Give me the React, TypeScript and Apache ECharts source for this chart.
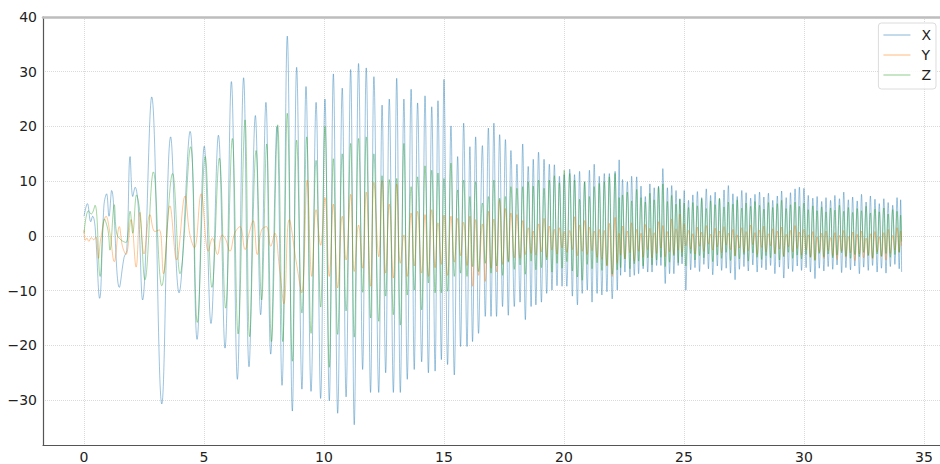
import React, { useEffect, useRef } from "react";
import * as echarts from "echarts";

const xTicks = [0, 5, 10, 15, 20, 25, 30, 35];
const yTicks = [-30, -20, -10, 0, 10, 20, 30, 40];
const seriesNames = ["X", "Y", "Z"];
const seriesColors = ["#1f77b4", "#ff7f0e", "#2ca02c"];

// ---- early (irregular) part, each series with its own sample times ----
const xEarlyT = [0, 0.14, 0.28, 0.36, 0.46, 0.65, 0.83, 0.94, 1.04, 1.15,
  1.47, 1.67, 1.78, 1.92, 2.03, 2.13, 2.26, 2.44, 2.82, 3.24,
  3.61, 3.96, 4.42, 4.71, 5.01, 5.29, 5.6, 5.875, 6.14, 6.39,
  6.65, 6.875, 7.14, 7.36, 7.58, 7.78, 8.04, 8.25, 8.47, 8.68,
  8.86, 9.08, 9.25, 9.46];
const xEarlyV = [3.6, 5.9, 2.6, 3.6, 1.7, -11.4, 5.6, 7.7, 3.6, 8.3,
  -9.4, -3.9, -2.7, 14.5, 7.2, 8.9, 5.3, -11.7, 25.4, -30.7,
  18.1, -10.4, 19.1, -18.9, 16.4, -16.0, 18.4, -20.5, 28.2, -26.2,
  28.9, -23.9, 22.0, -14.4, 24.4, -21.6, 20.0, -27.3, 36.5, -32.0,
  30.8, -28.0, 27.3, -28.4];

const yEarlyT = [0, 0.05, 0.12, 0.2, 0.3, 0.4, 0.5, 0.6, 0.7, 0.92,
  1.08, 1.26, 1.47, 1.6, 1.75, 1.96, 2.17, 2.33, 2.5, 2.75,
  2.95, 3.14, 3.31, 3.58, 3.86, 4.21, 4.4, 4.6, 4.88, 5.18,
  5.35, 5.56, 5.75, 5.9, 6.08, 6.28, 6.5, 6.71, 6.88, 7.05,
  7.22, 7.4, 7.6, 7.78, 7.95, 8.14, 8.33, 8.55, 8.86, 9.07,
  9.3, 9.49];
const yEarlyV = [1.1, -0.8, -0.4, -1.0, -0.3, -0.7, -0.2, -4.1, -0.4, 3.6,
  0.5, -4.7, 1.7, -1.9, -3.4, 3.0, -5.7, 4.3, -3.3, 3.9,
  0.8, 1.1, -6.9, 5.5, -4.4, 7.3, 0.5, -2.2, 7.7, -2.8,
  -0.4, -3.4, 0.2, -0.6, -2.8, 0.5, 1.7, -2.5, 0.5, 2.8,
  -3.4, 1.1, 1.7, -1.9, 0.5, -5.7, -12.4, 3.0, -5.2, -10.4,
  10.2, -7.4];

const zEarlyT = [0, 0.18, 0.3, 0.46, 0.67, 0.85, 1.0, 1.08, 1.26, 1.36,
  1.53, 1.75, 1.92, 2.03, 2.19, 2.33, 2.54, 2.89, 3.24, 3.69,
  4.0, 4.44, 4.72, 5.05, 5.33, 5.64, 5.9, 6.18, 6.42, 6.71,
  6.9, 7.17, 7.4, 7.61, 7.81, 8.07, 8.28, 8.47, 8.68, 8.86,
  9.08, 9.28, 9.46];
const zEarlyV = [0.5, 4.6, 4.0, 5.6, -7.4, 3.1, 1.0, -2.6, 5.7, 0.5,
  -0.7, -1.2, 4.5, 0.5, 7.5, 4.2, -8.0, 11.7, -9.1, 11.4,
  -6.9, 16.3, -15.8, 14.5, -9.4, 14.2, -13.2, 17.8, -17.9, 21.2,
  -18.4, 15.6, -11.7, 16.8, -19.3, 20.3, -19.3, 22.4, -22.9, 17.5,
  -14.1, 18.1, -17.8];

// ---- main part: peak / trough times shared by the three series ----
const mainT = [9.67, 9.86, 10.04, 10.22, 10.39, 10.57, 10.76, 10.92, 11.11, 11.26,
  11.44, 11.61, 11.76, 11.94, 12.08, 12.28, 12.42, 12.57, 12.72, 12.89,
  13.03, 13.18, 13.33, 13.47, 13.63, 13.76, 13.9, 14.07, 14.21, 14.35,
  14.49, 14.63, 14.75, 14.89, 15.0, 15.15, 15.29, 15.43, 15.57, 15.69,
  15.82, 15.96, 16.08, 16.19, 16.32, 16.44, 16.6, 16.72, 16.85, 16.96,
  17.08, 17.19, 17.32, 17.44, 17.56, 17.68, 17.79, 17.93, 18.04, 18.17,
  18.28, 18.39, 18.51, 18.63, 18.72, 18.83, 18.94, 19.06, 19.17, 19.28,
  19.39, 19.5, 19.6, 19.71, 19.81, 19.92, 20.01, 20.12, 20.24, 20.35,
  20.44, 20.56, 20.65, 20.76, 20.86, 20.97, 21.06, 21.17, 21.26, 21.38,
  21.47, 21.58, 21.68, 21.79, 21.89, 22.01, 22.13, 22.22, 22.3, 22.36,
  22.44, 22.54, 22.64, 22.75, 22.82, 22.93, 23.03, 23.11, 23.21, 23.3,
  23.39, 23.49, 23.58, 23.67, 23.76, 23.86, 23.94, 24.04, 24.12, 24.22,
  24.31, 24.4, 24.49, 24.58, 24.67, 24.76, 24.83, 24.92, 25.01, 25.08,
  25.19, 25.28, 25.37, 25.46, 25.56, 25.65, 25.74, 25.83, 25.93, 26.02,
  26.11, 26.2, 26.3, 26.39, 26.48, 26.57, 26.67, 26.76, 26.85, 26.94,
  27.04, 27.13, 27.22, 27.31, 27.41, 27.5, 27.59, 27.68, 27.78, 27.87,
  27.96, 28.05, 28.15, 28.24, 28.33, 28.42, 28.52, 28.61, 28.7, 28.79,
  28.89, 28.98, 29.07, 29.16, 29.26, 29.35, 29.44, 29.53, 29.63, 29.72,
  29.81, 29.9, 30.0, 30.09, 30.18, 30.27, 30.37, 30.46, 30.55, 30.64,
  30.74, 30.83, 30.92, 31.01, 31.11, 31.2, 31.29, 31.38, 31.48, 31.57,
  31.66, 31.75, 31.85, 31.94, 32.03, 32.12, 32.22, 32.31, 32.4, 32.49,
  32.59, 32.68, 32.77, 32.86, 32.96, 33.05, 33.14, 33.23, 33.33, 33.42,
  33.51, 33.6, 33.7, 33.79, 33.88, 33.97, 34.03, 34.07];

const xMainV = [24.4, -29.7, 25.0, -30.1, 29.6, -32.4, 27.0, -29.4, 30.4, -34.5,
  31.5, -24.4, 30.7, -28.6, 29.1, -28.6, 23.9, -25.0, 25.0, -28.6,
  28.8, -28.6, 25.0, -26.2, 26.8, -24.4, 24.3, -23.0, 25.6, -25.0,
  23.6, -24.7, 24.7, -22.6, 28.6, -23.5, 20.1, -25.4, 14.5, -20.2,
  20.6, -20.2, 16.3, -19.3, 18.1, -17.8, 16.5, -14.7, 19.7, -14.7,
  20.6, -14.7, 18.5, -12.9, 17.6, -14.5, 15.6, -12.9, 13.1, -12.1,
  16.8, -15.3, 12.7, -12.9, 14.0, -12.6, 15.3, -12.1, 14.0, -10.5,
  13.1, -9.9, 13.0, -9.1, 10.9, -9.2, 11.2, -9.2, 12.2, -11.0,
  11.2, -12.6, 11.8, -10.5, 9.9, -9.9, 12.0, -12.1, 13.1, -10.5,
  10.9, -10.8, 11.4, -10.2, 11.4, -11.5, 11.8, -9.9, 13.9, -7.2,
  10.3, -6.6, 9.9, -7.5, 10.9, -7.2, 10.8, -6.9, 9.1, -6.0,
  7.2, -6.6, 9.5, -6.6, 8.8, -5.4, 9.1, -5.4, 12.3, -8.7,
  8.8, -6.9, 9.2, -6.9, 8.3, -5.4, 6.8, -5.1, 8.3, -9.9,
  6.5, -6.2, 7.5, -5.8, 8.1, -6.5, 7.0, -5.2, 8.6, -6.0,
  7.4, -7.1, 8.0, -5.5, 6.8, -6.3, 8.4, -5.9, 9.2, -6.8,
  7.7, -8.0, 7.2, -6.1, 8.3, -5.6, 7.9, -6.4, 6.9, -5.3,
  7.6, -6.6, 8.0, -5.8, 7.1, -6.2, 7.8, -5.4, 6.5, -6.9,
  7.3, -5.7, 8.2, -7.7, 7.0, -6.0, 7.9, -6.5, 8.6, -5.5,
  8.9, -6.3, 8.7, -5.8, 7.4, -6.6, 6.9, -7.8, 7.2, -5.9,
  6.3, -6.4, 7.0, -5.6, 6.5, -6.1, 7.4, -5.3, 6.8, -6.7,
  8.0, -5.8, 6.6, -6.2, 7.1, -5.5, 6.4, -6.9, 7.6, -5.7,
  6.2, -6.3, 7.3, -5.4, 6.7, -6.6, 5.9, -5.9, 6.8, -6.8,
  6.1, -5.6, 5.6, -5.2, 7.0, -6.0, 6.6, -6.6];

const yMainV = [4.8, -1.7, 7.0, -7.4, 5.8, -9.5, 3.6, -4.4, 7.6, -6.5,
  2.0, -5.9, 8.0, -9.2, 9.8, -3.8, 10.1, -6.8, 5.8, -7.7,
  9.5, -5.0, 0.2, -7.4, 4.2, -5.5, 4.5, -6.8, 3.9, -7.4,
  4.8, -5.8, 2.4, -5.2, 3.8, -7.2, 3.6, -4.8, 3.2, -3.6,
  2.5, -5.4, 3.6, -9.2, 3.0, -7.2, 2.2, -8.3, 4.5, -5.9,
  3.1, -6.6, 6.6, -5.2, 5.0, -4.6, 4.2, -4.0, 3.9, -4.1,
  2.8, -3.4, 1.5, -3.2, 0.9, -3.5, 2.2, -2.9, 3.2, -3.9,
  1.8, -2.6, 1.2, -3.3, 1.5, -2.2, 0.8, -3.0, 1.0, -2.5,
  3.5, -3.6, 2.0, -2.8, 2.8, -3.4, 1.6, -2.7, 0.9, -3.9,
  1.2, -4.3, 1.0, -5.5, 2.3, -7.4, 3.4, -5.0, 0.5, -3.5,
  1.8, -4.2, 0.9, -3.1, 2.4, -4.6, 1.2, -2.8, 0.5, -3.9,
  2.1, -2.5, 1.4, -4.0, 0.6, -3.2, 2.6, -2.2, 1.9, -3.8,
  0.8, -2.9, 3.1, -3.4, 1.3, -2.6, 4.0, -3.0, 2.2, -1.8,
  1.0, -2.4, 0.4, -3.3, 1.6, -1.9, 0.7, -2.8, 1.9, -1.5,
  0.3, -2.6, 1.4, -2.0, 0.9, -3.1, 1.7, -1.7, 0.5, -2.5,
  1.2, -3.6, 0.2, -2.2, 1.5, -3.0, 0.8, -2.7, 2.0, -1.6,
  0.6, -3.4, 1.1, -2.1, 1.8, -2.9, 0.4, -1.8, 1.3, -3.2,
  0.9, -2.4, 1.6, -3.7, 0.3, -2.0, 1.0, -2.9, 1.9, -2.3,
  0.7, -3.5, 1.2, -2.6, 0.2, -3.9, 0.8, -4.4, -0.2, -3.0,
  0.5, -4.1, 0.9, -2.7, -0.3, -3.6, 0.6, -4.3, 0.1, -2.8,
  1.0, -3.9, -0.1, -3.1, 0.7, -4.5, 0.3, -3.3, 0.9, -4.0,
  -0.4, -3.5, 0.4, -4.2, 0.8, -2.9, -0.2, -3.8, 0.6, -4.4,
  1.2, -3.2, 0.1, -2.6, 1.5, -3.0, 0.9, -1.8];

const zMainV = [13.8, -13.0, 20.0, -24.0, 14.1, -18.0, 15.0, -13.7, 16.9, -18.5,
  17.8, -10.3, 18.1, -15.0, 15.0, -15.6, 11.0, -11.0, 10.3, -14.4,
  10.5, -16.3, 16.9, -10.8, 9.0, -9.9, 10.8, -13.5, 12.8, -8.6,
  12.0, -10.4, 11.5, -10.4, 10.5, -10.1, 13.3, -7.4, 8.4, -6.8,
  10.2, -7.4, 7.2, -5.6, 9.9, -6.5, 6.0, -5.0, 7.2, -6.8,
  10.2, -5.5, 6.9, -7.2, 7.2, -4.8, 9.0, -6.1, 8.7, -5.3,
  9.0, -7.0, 9.9, -4.6, 9.1, -6.2, 10.2, -5.8, 8.7, -4.4,
  10.2, -6.6, 11.0, -5.0, 9.7, -5.9, 12.0, -4.7, 11.4, -6.4,
  10.2, -7.5, 6.7, -8.1, 9.9, -5.2, 7.2, -6.0, 9.0, -4.9,
  9.6, -6.3, 9.9, -5.4, 10.8, -7.0, 11.4, -6.2, 7.0, -5.8,
  7.5, -4.2, 8.0, -6.0, 6.4, -5.1, 8.5, -4.6, 7.0, -5.5,
  6.2, -4.0, 7.8, -5.3, 6.6, -4.4, 8.9, -3.9, 9.5, -5.6,
  6.3, -4.8, 7.4, -3.6, 5.8, -4.9, 6.7, -3.8, 6.0, -5.5,
  5.2, -3.2, 6.1, -4.4, 5.5, -3.6, 6.8, -4.0, 5.0, -3.3,
  6.4, -4.7, 5.7, -3.5, 6.9, -4.1, 5.3, -3.0, 6.2, -4.5,
  5.8, -3.7, 6.6, -4.2, 5.1, -3.4, 6.0, -4.6, 5.4, -3.1,
  6.3, -3.9, 5.6, -4.3, 4.9, -3.6, 6.1, -4.0, 5.2, -3.3,
  5.9, -4.4, 6.5, -3.8, 5.0, -3.0, 5.7, -4.1, 6.2, -3.5,
  5.4, -4.2, 6.0, -3.4, 4.8, -3.9, 5.5, -4.5, 4.6, -3.2,
  5.3, -3.8, 4.4, -3.3, 5.1, -4.0, 4.7, -3.5, 5.6, -3.1,
  4.5, -3.7, 5.2, -4.1, 4.3, -3.4, 5.0, -3.8, 4.6, -3.0,
  5.4, -3.6, 4.2, -4.0, 4.9, -3.3, 4.4, -3.7, 5.1, -3.2,
  4.0, -3.9, 4.8, -3.4, 4.5, -3.0, 3.8, -1.0];

function pairs(t: number[], v: number[]): number[][] {
  const out: number[][] = [];
  const n = Math.min(t.length, v.length);
  for (let i = 0; i < n; i++) out.push([t[i], v[i]]);
  return out;
}

const seriesData = [
  pairs(xEarlyT, xEarlyV).concat(pairs(mainT, xMainV)),
  pairs(yEarlyT, yEarlyV).concat(pairs(mainT, yMainV)),
  pairs(zEarlyT, zEarlyV).concat(pairs(mainT, zMainV)),
];

const FONT = "DejaVu Sans";

export default function App() {
  const ref = useRef<HTMLDivElement>(null);
  useEffect(() => {
    document.body.style.margin = "0";
    const chart = echarts.init(ref.current as HTMLDivElement, null, { renderer: "svg" });
    const fmt = (v: number) => (v < 0 ? "\u2212" + Math.abs(v) : String(v));
    chart.setOption({
      animation: false,
      backgroundColor: "#ffffff",
      grid: { left: 43, right: 0, top: 17, bottom: 19, containLabel: false },
      legend: {
        orient: "vertical",
        right: 4,
        top: 23,
        icon: "rect",
        itemWidth: 27,
        itemHeight: 1.2,
        itemGap: 6,
        padding: [5, 5, 7, 5],
        backgroundColor: "rgba(255,255,255,0.85)",
        borderColor: "#dcdcdc",
        borderWidth: 1,
        borderRadius: 3,
        itemStyle: { opacity: 0.45 },
        textStyle: {
          fontFamily: FONT,
          fontSize: 14,
          color: "#222",
          lineHeight: 14,
          padding: [0, 0, 0, 6],
        },
        data: seriesNames,
      },
      xAxis: [
        {
          type: "value",
          min: -1.71,
          max: 35.67,
          axisLine: { show: true, onZero: false, lineStyle: { color: "#555", width: 1.2 } },
          axisTick: { show: false, customValues: xTicks },
          axisLabel: {
            customValues: xTicks,
            fontFamily: FONT,
            fontSize: 14,
            color: "#222",
            margin: 5,
          },
          splitLine: { show: true, lineStyle: { color: "#dadada", type: "dotted", width: 1 } },
        },
        {
          type: "value",
          position: "top",
          min: -1.71,
          max: 35.67,
          axisLine: { show: true, onZero: false, lineStyle: { color: "#bdbdbd", width: 2.5 } },
          axisTick: { show: false },
          axisLabel: { show: false },
          splitLine: { show: false },
        },
      ],
      yAxis: {
        type: "value",
        min: -38.2,
        max: 40,
        axisLine: { show: true, onZero: false, lineStyle: { color: "#555", width: 1.2 } },
        axisTick: { show: false, customValues: yTicks },
        axisLabel: {
          customValues: yTicks,
          formatter: fmt,
          fontFamily: FONT,
          fontSize: 14,
          color: "#222",
          margin: 6,
        },
        splitLine: { show: true, lineStyle: { color: "#dadada", type: "dotted", width: 1 } },
      },
      series: seriesNames.map((name, i) => ({
        name,
        type: "line",
        xAxisIndex: 0,
        data: seriesData[i],
        symbol: "none",
        showSymbol: false,
        smooth: 0.4,
        color: seriesColors[i],
        lineStyle: { width: 0.8, opacity: 0.55, color: seriesColors[i] },
        emphasis: { disabled: true },
      })),
    });
    return () => chart.dispose();
  }, []);
  return <div ref={ref} style={{ width: 940, height: 464 }} />;
}
